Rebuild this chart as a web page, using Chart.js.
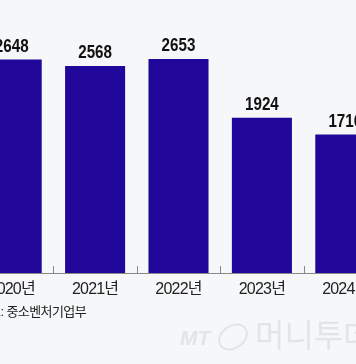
<!DOCTYPE html>
<html>
<head>
<meta charset="utf-8">
<script src="https://cdn.jsdelivr.net/npm/chart.js@4"></script>
<style>
  html, body { margin: 0; padding: 0; width: 356px; height: 364px; overflow: hidden; background: #f6f7f9; }
  #wrap { position: absolute; left: -30px; top: 0; width: 417px; height: 364px; }
</style>
</head>
<body>
<div id="wrap"><canvas id="startupChart" width="417" height="364"></canvas></div>
<script>
const years = ['2020년', '2021년', '2022년', '2023년', '2024년'];
const counts = [2648, 2568, 2653, 1924, 1716];
const sourceText = '자료: 중소벤처기업부';

const fontFamily = '"Liberation Sans", "Noto Sans CJK KR", sans-serif';

// value labels above the bars, tick marks between them, source line and watermark
const extras = {
  id: 'extras',
  beforeDraw(chart) {
    // the original axis labels are set tighter than the stock font
    chart.ctx.letterSpacing = '-0.8px';
  },
  afterDatasetsDraw(chart) {
    const ctx = chart.ctx;
    const x = chart.scales.x;
    const bars = chart.getDatasetMeta(0).data;

    ctx.save();
    ctx.letterSpacing = '0px';
    ctx.fillStyle = '#111';
    ctx.font = 'bold 19px ' + fontFamily;
    ctx.textAlign = 'center';
    ctx.textBaseline = 'middle';
    bars.forEach((bar, i) => {
      ctx.save();
      ctx.translate(bar.x, bar.y - 13);
      ctx.scale(0.8, 1);
      ctx.fillText(counts[i], 0, 0);
      ctx.restore();
    });

    ctx.strokeStyle = '#888';
    ctx.lineWidth = 1;
    for (let i = 0; i < years.length - 1; i++) {
      const tx = Math.round((x.getPixelForValue(i) + x.getPixelForValue(i + 1)) / 2) + 0.5;
      ctx.beginPath();
      ctx.moveTo(tx, x.top - 7);
      ctx.lineTo(tx, x.top);
      ctx.stroke();
    }

    ctx.fillStyle = '#222';
    ctx.letterSpacing = '-0.6px';
    ctx.font = '13px ' + fontFamily;
    ctx.textAlign = 'right';
    ctx.fillText(sourceText, 116, 312);

    ctx.letterSpacing = '0px';
    ctx.fillStyle = '#e3e4e7';
    ctx.textAlign = 'left';
    ctx.font = 'italic bold 21px ' + fontFamily;
    ctx.fillText('MT', 210, 339);
    ctx.strokeStyle = '#e3e4e7';
    ctx.lineWidth = 2;
    ctx.beginPath();
    ctx.ellipse(263, 337, 15, 11, -0.6, 0, Math.PI * 2);
    ctx.stroke();
    ctx.font = '32px ' + fontFamily;
    ctx.fillText('머니투데이', 285, 338);
    ctx.restore();
  },
};

new Chart(document.getElementById('startupChart').getContext('2d'), {
  type: 'bar',
  data: {
    labels: years,
    datasets: [
      {
        data: counts,
        backgroundColor: '#20079a',
        barPercentage: 0.72,
        categoryPercentage: 1,
      },
    ],
  },
  options: {
    responsive: false,
    animation: false,
    layout: { padding: 0 },
    plugins: { legend: { display: false }, tooltip: { enabled: false } },
    scales: {
      y: { display: false, min: 0, max: 3385 },
      x: {
        afterFit(scale) {
          scale.height = 91;
        },
        grid: { display: false },
        border: { color: '#888', width: 1 },
        ticks: {
          color: '#222',
          maxRotation: 0,
          padding: -1,
          font: { size: 16, family: fontFamily },
        },
      },
    },
  },
  plugins: [extras],
});
</script>
</body>
</html>
